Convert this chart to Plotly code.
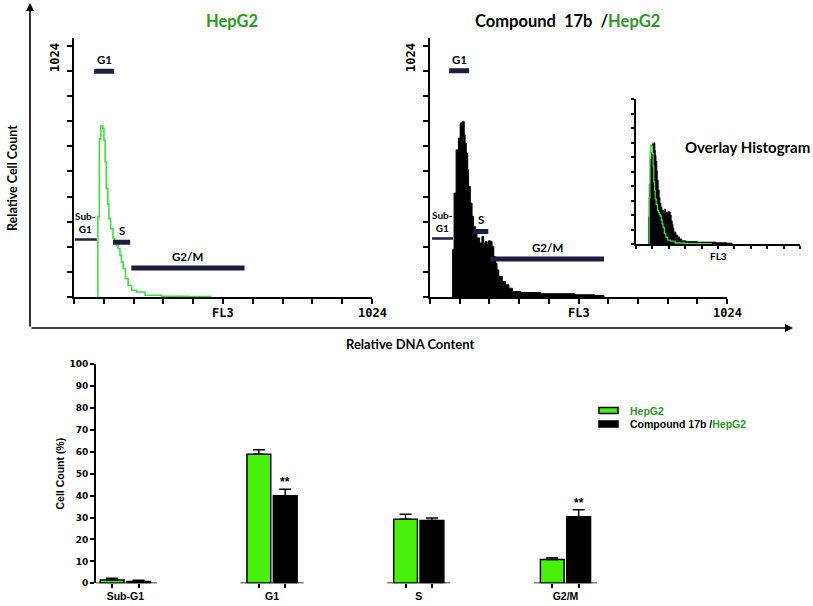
import plotly.graph_objects as go

W, H = 813, 606

# ---------------- flow-cytometry histograms (FL3 channel vs relative cell count) ----------------
fl3_hepg2 = [82, 87, 92, 99, 103, 107, 111, 116, 120, 126, 134, 140, 146, 152, 158, 163, 169, 177, 186, 198, 215, 244, 301, 393, 470]
cnt_hepg2 = [320, 631, 681, 671, 624, 538, 432, 370, 312, 272, 233, 219, 205, 193, 166, 139, 113, 73, 47, 27, 20, 7, 3, 2, 0]

fl3_cmpd = [78, 83, 90, 98, 104, 111, 118, 121, 125, 130, 133, 139, 145, 150, 156, 162, 171, 179, 185, 191, 197,
            202, 208, 214, 220, 226, 231, 237, 249, 260, 272, 284, 312, 382, 498, 567, 600]
cnt_cmpd = [188, 414, 586, 633, 693, 699, 646, 613, 573, 507, 440, 374, 321, 281, 255, 235, 215, 241, 215, 221, 208,
            224, 221, 201, 161, 135, 108, 82, 62, 49, 35, 22, 18, 13, 9, 6, 0]

# gates (FL3 start, FL3 end, height in count units)
gate_names = ["Sub-G1", "G1", "S", "G2/M"]
gate_labels = ["Sub-<br>G1", "G1", "S", "G2/M"]
hepg2_gate_start = [3, 69, 134, 197]
hepg2_gate_end = [78, 138, 193, 586]
hepg2_gate_level = [229, 899, 218, 116]
cmpd_gate_start = [7, 66, 149, 208]
cmpd_gate_end = [79, 135, 201, 600]
cmpd_gate_level = [233, 901, 261, 151]

# ---------------- bar chart: cell-cycle distribution ----------------
phases = ["Sub-G1", "G1", "S", "G2/M"]
hepg2_pct = [1.5, 58.8, 29.2, 10.8]
hepg2_sem = [0.8, 2.1, 2.3, 0.8]
cmpd_pct = [0.8, 39.9, 28.6, 30.4]
cmpd_sem = [0.6, 3.0, 1.2, 3.1]
cmpd_sig = ["", "**", "", "**"]
series_names = ["<span style='color:#2a9a22'>HepG2</span>",
                "Compound 17b /<span style='color:#2a9a22'>HepG2</span>"]

GREEN_BAR = "#47f20a"
GREEN_LINE = "#3ee03a"
GREEN_TXT = "#2a9a22"
NAVY = "#1b1e3c"
TITLE_FONT = "Lato"
BAR_FONT = "Liberation Sans"


def X(px):
    return px / W


def Y(py):
    return 1 - py / H


def step(xs, cs):
    return [xs[0]] + list(xs), [0] + list(cs)


fig = go.Figure()

# ---- left histogram: HepG2 ----
sx, sy = step(fl3_hepg2, cnt_hepg2)
fig.add_trace(go.Scatter(x=sx, y=sy, mode="lines", line=dict(color=GREEN_LINE, width=1.6, shape="hv"),
                         xaxis="x", yaxis="y", showlegend=False, hoverinfo="skip"))

# ---- right histogram: compound 17b ----
cx, cy = step(fl3_cmpd, cnt_cmpd)
fig.add_trace(go.Scatter(x=cx, y=cy, mode="lines", fill="tozeroy", fillcolor="black",
                         line=dict(color="black", width=1, shape="hv"),
                         xaxis="x2", yaxis="y2", showlegend=False, hoverinfo="skip"))

# ---- inset overlay ----
fig.add_trace(go.Scatter(x=cx, y=cy, mode="lines", fill="tozeroy", fillcolor="black",
                         line=dict(color="black", width=0.8, shape="hv"),
                         xaxis="x3", yaxis="y3", showlegend=False, hoverinfo="skip"))
fig.add_trace(go.Scatter(x=sx, y=sy, mode="lines", line=dict(color=GREEN_LINE, width=1.3, shape="hv"),
                         xaxis="x3", yaxis="y3", showlegend=False, hoverinfo="skip"))

annotations = []
shapes = []

# ---- gates ----
for (xa, ya, st, en, lv) in [("x", "y", hepg2_gate_start, hepg2_gate_end, hepg2_gate_level),
                             ("x2", "y2", cmpd_gate_start, cmpd_gate_end, cmpd_gate_level)]:
    for i, name in enumerate(gate_names):
        fig.add_trace(go.Scatter(x=[st[i], en[i]], y=[lv[i], lv[i]], mode="lines",
                                 line=dict(color=NAVY, width=2.5 if name == "Sub-G1" else 5),
                                 xaxis=xa, yaxis=ya, showlegend=False, hoverinfo="skip"))
        annotations.append(dict(x=(st[i] + en[i]) / 2, y=lv[i], xref=xa, yref=ya, text=gate_labels[i],
                                showarrow=False, xanchor="center", yanchor="bottom", yshift=3,
                                font=dict(family=TITLE_FONT, size=10 if name == "Sub-G1" else 11.5,
                                          color="black", weight="bold")))

# ---- bar chart ----
BARGAP, BARGROUPGAP = 0.64, 0.1
idx = list(range(len(phases)))
bar_colors = [GREEN_BAR, "black"]
for vals, sems, col, nm in [(hepg2_pct, hepg2_sem, bar_colors[0], series_names[0]),
                            (cmpd_pct, cmpd_sem, bar_colors[1], series_names[1])]:
    fig.add_trace(go.Bar(x=idx, y=vals, name=nm, showlegend=False,
                         marker=dict(color=col, line=dict(color="black", width=1.5)),
                         error_y=dict(type="data", array=sems, arrayminus=[0] * len(idx), symmetric=False,
                                      color="black", thickness=1.5, width=6),
                         xaxis="x4", yaxis="y4", hoverinfo="skip"))

half = (1 - BARGAP) / 2
seg_x, seg_y = [], []
for i in idx:
    seg_x += [i - half - 0.035, i + half + 0.035, None]
    seg_y += [0, 0, None]
fig.add_trace(go.Scatter(x=seg_x, y=seg_y, mode="lines", line=dict(color="black", width=1.8),
                         xaxis="x4", yaxis="y4", showlegend=False, hoverinfo="skip", cliponaxis=False))

off = (1 - BARGAP) / 4
for i in idx:
    if cmpd_sig[i]:
        annotations.append(dict(x=i + off, y=cmpd_pct[i] + cmpd_sem[i], xref="x4", yref="y4", text=cmpd_sig[i],
                                showarrow=False, xanchor="center", yanchor="bottom", yshift=-2,
                                font=dict(family=BAR_FONT, size=12, color="black", weight="bold")))

# ---- legend (drawn as key boxes + labels) ----
for k, (col, nm) in enumerate(zip(bar_colors, series_names)):
    yc = 410.5 + 13.5 * k
    shapes.append(dict(type="rect", xref="paper", yref="paper", x0=X(599), x1=X(618), y0=Y(yc - 3),
                       y1=Y(yc + 3), fillcolor=col, line=dict(color="black", width=1.5)))
    annotations.append(dict(x=X(628), y=Y(yc), xref="paper", yref="paper", text=nm, showarrow=False,
                            xanchor="left", yanchor="middle",
                            font=dict(family=BAR_FONT, size=10.5, color="black", weight="bold")))


# ---- text annotations ----
def ann(px, py, text, size, family=TITLE_FONT, angle=0, color="black"):
    annotations.append(dict(x=X(px), y=Y(py), xref="paper", yref="paper", text=text, showarrow=False,
                            textangle=angle, xanchor="center", yanchor="middle",
                            font=dict(family=family, size=size, color=color, weight="bold")))


ann(232, 21, "HepG2", 16.5, color=GREEN_TXT)
ann(567, 21, "Compound&nbsp;&nbsp;17b&nbsp;&nbsp;/<span style='color:%s'>HepG2</span>" % GREEN_TXT, 16.5)
ann(747, 147, "Overlay Histogram", 15)
ann(12, 178, "Relative Cell Count", 12.5, angle=-90)
ann(410, 344, "Relative DNA Content", 13)
ann(55, 58, "1024", 12, family="DejaVu Sans Mono", angle=-90)
ann(411, 58, "1024", 12, family="DejaVu Sans Mono", angle=-90)
for xa in ["x", "x2"]:
    for val, txt in [(512, "FL3"), (1024, "1024")]:
        annotations.append(dict(x=val, y=Y(313), xref=xa, yref="paper", text=txt, showarrow=False,
                                xanchor="center", yanchor="middle",
                                font=dict(family="DejaVu Sans Mono", size=12, color="black", weight="bold")))
annotations.append(dict(x=512, y=Y(256), xref="x3", yref="paper", text="FL3", showarrow=False,
                        xanchor="center", yanchor="middle",
                        font=dict(family=TITLE_FONT, size=10, color="black", weight="bold")))

# outer arrows
annotations.append(dict(x=X(30), y=Y(3), xref="paper", yref="paper", ax=0, ay=325, axref="pixel", ayref="pixel",
                        text="", showarrow=True, arrowhead=2, arrowsize=1, arrowwidth=1.6, arrowcolor="black"))
annotations.append(dict(x=X(793), y=Y(328), xref="paper", yref="paper", ax=-763, ay=0, axref="pixel", ayref="pixel",
                        text="", showarrow=True, arrowhead=2, arrowsize=1, arrowwidth=1.6, arrowcolor="black"))

hist_x = dict(range=[0, 1024], showline=True, linecolor="black", linewidth=2, ticks="outside", ticklen=5,
              tickwidth=2, tickcolor="black", tickvals=[k * 102.4 for k in range(11)], showticklabels=False,
              showgrid=False, zeroline=False, fixedrange=True, automargin=False)
hist_y = dict(range=[0, 1033], showline=True, linecolor="black", linewidth=2, ticks="outside", ticklen=5,
              tickwidth=2, tickcolor="black", tickvals=[k * 100 for k in range(11)], showticklabels=False,
              showgrid=False, zeroline=False, fixedrange=True, automargin=False)
inset_x = dict(hist_x, linewidth=1.5, ticklen=3, tickwidth=1.5)
inset_y = dict(hist_y, range=[0, 1000], linewidth=1.5, ticklen=3, tickwidth=1.5)

bar_centers = []
for i in idx:
    bar_centers += [i - off, i + off]

fig.update_layout(
    width=W, height=H, margin=dict(l=0, r=0, t=0, b=0, pad=0, autoexpand=False),
    paper_bgcolor="white", plot_bgcolor="rgba(0,0,0,0)", showlegend=False,
    xaxis=dict(hist_x, domain=[X(74), X(372)], anchor="y"),
    yaxis=dict(hist_y, domain=[Y(297), Y(37.7)], anchor="x"),
    xaxis2=dict(hist_x, domain=[X(430), X(727)], anchor="y2"),
    yaxis2=dict(hist_y, domain=[Y(297), Y(37.7)], anchor="x2"),
    xaxis3=dict(inset_x, domain=[X(636), X(800)], anchor="y3"),
    yaxis3=dict(inset_y, domain=[Y(244), Y(99.3)], anchor="x3"),
    xaxis4=dict(domain=[X(96), X(697.5)], anchor="y4", range=[-0.2, 3.9], tickvals=idx, ticktext=phases,
                showline=False, showgrid=False, zeroline=False, ticks="", fixedrange=True, automargin=False,
                ticklabelstandoff=5,
                minor=dict(tickvals=bar_centers, ticks="outside", ticklen=4, tickwidth=1.5, tickcolor="black"),
                tickfont=dict(family=BAR_FONT, size=10.5, color="black", weight="bold")),
    yaxis4=dict(domain=[Y(583.3), Y(364)], anchor="x4", range=[0, 100], dtick=10, showline=True,
                linecolor="black", linewidth=2, ticks="outside", ticklen=4, tickwidth=1.5, tickcolor="black",
                showgrid=False, zeroline=False, fixedrange=True, automargin=False,
                tickfont=dict(family="DejaVu Sans", size=9, color="black", weight="bold"),
                title=dict(text="Cell Count (%)", standoff=3,
                           font=dict(family=BAR_FONT, size=10.5, color="black", weight="bold"))),
    barmode="group", bargap=BARGAP, bargroupgap=BARGROUPGAP,
    annotations=annotations, shapes=shapes,
)

fig.write_html("out.html", config={"displayModeBar": False},
               post_script="document.body.style.margin='0px';document.body.style.overflow='hidden';")
